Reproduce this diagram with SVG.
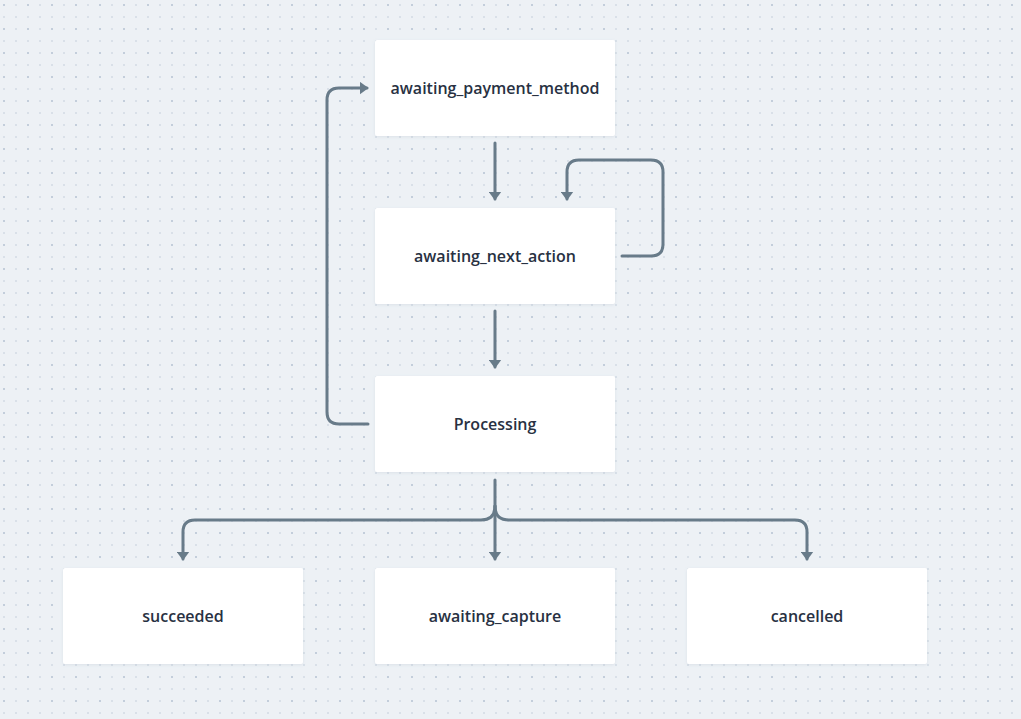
<svg xmlns="http://www.w3.org/2000/svg" width="1021" height="719" viewBox="0 0 1021 719">
<defs>
<pattern id="dots" x="3" y="4" width="24" height="24" patternUnits="userSpaceOnUse">
<rect x="0" y="0" width="2" height="2" fill="#c3cedb"/>
<rect x="12" y="0" width="2" height="2" fill="#d9e0e8"/>
<rect x="0" y="12" width="2" height="2" fill="#d9e0e8"/>
<rect x="12" y="12" width="2" height="2" fill="#d9e0e8"/>
</pattern>
<marker id="arr" viewBox="0 0 9 13" refX="7.5" refY="6.5" markerWidth="9" markerHeight="13" markerUnits="userSpaceOnUse" orient="auto">
<path d="M0,0 L9,6.5 L0,13 z" fill="#687b89"/>
</marker>
<filter id="sh" x="-10%" y="-10%" width="120%" height="130%">
<feDropShadow dx="0" dy="1" stdDeviation="1.5" flood-color="#8a9bb0" flood-opacity="0.18"/>
</filter>
</defs>
<style>
.node rect{fill:#ffffff;filter:url(#sh)}
.node text{font-family:"Open Sans","Liberation Sans",sans-serif;font-size:16px;font-weight:600;fill:#283142;text-anchor:middle;dominant-baseline:central}
.edge{fill:none;stroke:#687b89;stroke-width:3;stroke-linecap:round;stroke-linejoin:round}
</style>
<rect width="1021" height="719" fill="#edf1f5"/>
<rect width="1021" height="719" fill="url(#dots)"/>
<g id="connectors">
<path class="edge" d="M495,143 V199" marker-end="url(#arr)"/>
<path class="edge" d="M495,311 V367" marker-end="url(#arr)"/>
<path class="edge" d="M622,256 H651 Q663,256 663,244 V172 Q663,160 651,160 H579 Q567,160 567,172 V199" marker-end="url(#arr)"/>
<path class="edge" d="M368,424 H339 Q327,424 327,412 V100 Q327,88 339,88 H367" marker-end="url(#arr)"/>
<path class="edge" d="M495,480 V559" marker-end="url(#arr)"/>
<path class="edge" d="M495,506 Q495,520 481,520 H195 Q183,520 183,532 V559" marker-end="url(#arr)"/>
<path class="edge" d="M495,506 Q495,520 509,520 H795 Q807,520 807,532 V559" marker-end="url(#arr)"/>
</g>
<g id="node-awaiting_payment_method" class="node"><rect x="375" y="40" width="240" height="96" rx="2"/><text x="495" y="88">awaiting_payment_method</text></g>
<g id="node-awaiting_next_action" class="node"><rect x="375" y="208" width="240" height="96" rx="2"/><text x="495" y="256">awaiting_next_action</text></g>
<g id="node-processing" class="node"><rect x="375" y="376" width="240" height="96" rx="2"/><text x="495" y="424">Processing</text></g>
<g id="node-succeeded" class="node"><rect x="63" y="568" width="240" height="96" rx="2"/><text x="183" y="616">succeeded</text></g>
<g id="node-awaiting_capture" class="node"><rect x="375" y="568" width="240" height="96" rx="2"/><text x="495" y="616">awaiting_capture</text></g>
<g id="node-cancelled" class="node"><rect x="687" y="568" width="240" height="96" rx="2"/><text x="807" y="616">cancelled</text></g>
</svg>
